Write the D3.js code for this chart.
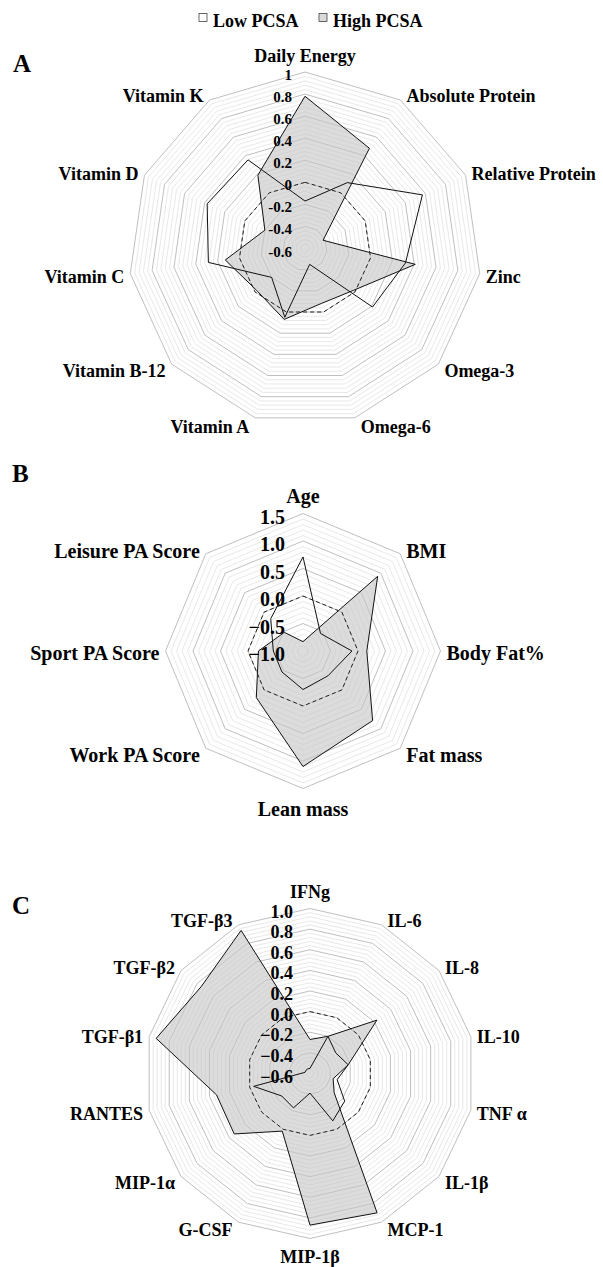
<!DOCTYPE html>
<html>
<head>
<meta charset="utf-8">
<script src="https://cdn.jsdelivr.net/npm/d3@7"></script>
<style>
  body { margin: 0; background: #fff; }
  svg { display: block; font-family: "Liberation Serif", "Times New Roman", serif; font-weight: bold; }
</style>
</head>
<body>
<svg id="chart" width="603" height="1267"></svg>
<script>
// ---- panel A: nutrient intake ----
const nutrientNames = ["Daily Energy", "Absolute Protein", "Relative Protein", "Zinc", "Omega-3", "Omega-6",
    "Vitamin A", "Vitamin B-12", "Vitamin C", "Vitamin D", "Vitamin K"];
const nutrientLow  = [-0.17, 0.11, 0.57, 0.32, 0.21, -0.45, 0.05, -0.2, 0.285, 0.375, 0.355];
const nutrientHigh = [0.78, 0.48, -0.42, 0.41, -0.02, -0.08, 0.07, -0.02, 0.13, -0.2, 0.19];
const nutrientTicks = [1, 0.8, 0.6, 0.4, 0.2, 0, -0.2, -0.4, -0.6];

// ---- panel B: body composition and activity ----
const bodyNames = ["Age", "BMI", "Body Fat%", "Fat mass", "Lean mass", "Work PA Score", "Sport PA Score", "Leisure PA Score"];
const bodyLow  = [0.71, -0.55, -0.11, -0.36, -0.3, -0.46, -0.46, -0.17];
const bodyHigh = [-0.83, 0.92, 0.16, 0.79, 1.1, 0.2, -0.19, -0.52];
const bodyTicks = [1.5, 1.0, 0.5, 0.0, -0.5, -1.0];

// ---- panel C: cytokines ----
const cytokineNames = ["IFNg", "IL-6", "IL-8", "IL-10", "TNF α", "IL-1β", "MCP-1", "MIP-1β", "G-CSF",
    "MIP-1α", "RANTES", "TGF-β1", "TGF-β2", "TGF-β3"];
const cytokineLow  = [-0.55, -0.2, -0.28, -0.22, -0.33, -0.17, -0.09, -0.41, -0.23, -0.25, -0.04, -0.55, -0.55, -0.55];
const cytokineHigh = [-0.27, -0.2, 0.23, -0.22, -0.37, -0.3, 0.9, 0.87, 0.02, 0.34, 0.33, 0.93, 0.75, 0.94];
const cytokineTicks = [1.0, 0.8, 0.6, 0.4, 0.2, 0.0, -0.2, -0.4, -0.6];

const legendNames = ["Low PCSA", "High PCSA"];

const svg = d3.select("#chart");

function drawRadar(opt) {
    const g = svg.append("g");
    const n = opt.names.length;
    const r = d3.scaleLinear().domain([opt.min, opt.max]).range([0, opt.radius]);
    const angle = i => i * 2 * Math.PI / n;

    // grid: minor levels light, major levels a bit darker
    const levels = d3.range(0, Math.round((opt.max - opt.min) / opt.minor) + 1)
        .map(k => opt.min + k * opt.minor);
    const ring = d3.lineRadial()
        .angle((d, i) => angle(i))
        .radius(d => r(d))
        .curve(d3.curveLinearClosed);

    levels.forEach((lv, k) => {
        if (k === 0) return;
        const major = k % opt.perMajor === 0;
        g.append("path")
            .attr("transform", `translate(${opt.cx},${opt.cy})`)
            .attr("d", ring(d3.range(n).map(() => lv)))
            .attr("fill", "none")
            .attr("stroke", major ? "#b8b8b8" : "#dedede")
            .attr("stroke-width", major ? 0.9 : 0.7);
    });

    const series = d3.lineRadial()
        .angle((d, i) => angle(i))
        .radius(d => r(d))
        .curve(d3.curveLinearClosed);

    // High PCSA, grey fill
    g.append("path")
        .attr("transform", `translate(${opt.cx},${opt.cy})`)
        .attr("d", series(opt.high))
        .attr("fill", "#c4c4c4")
        .attr("fill-opacity", 0.6)
        .attr("stroke", "#111")
        .attr("stroke-width", 1);

    // Low PCSA, outline only
    g.append("path")
        .attr("transform", `translate(${opt.cx},${opt.cy})`)
        .attr("d", series(opt.low))
        .attr("fill", "none")
        .attr("stroke", "#111")
        .attr("stroke-width", 1);

    // zero reference
    g.append("path")
        .attr("transform", `translate(${opt.cx},${opt.cy})`)
        .attr("d", series(opt.names.map(() => 0)))
        .attr("fill", "none")
        .attr("stroke", "#222")
        .attr("stroke-width", 1)
        .attr("stroke-dasharray", "4,3");

    // value labels up the top spoke
    g.selectAll(".tick")
        .data(opt.ticks)
        .enter()
        .append("text")
        .attr("x", opt.cx - opt.tickGap)
        .attr("y", d => opt.cy - r(d) + 3)
        .attr("text-anchor", "end")
        .attr("dominant-baseline", "central")
        .attr("font-size", opt.tickSize)
        .text(d => opt.fmt(d));

    // category labels
    opt.names.forEach((name, i) => {
        const a = angle(i);
        const s = Math.sin(a), c = Math.cos(a);
        const vx = opt.cx + opt.radius * s, vy = opt.cy - opt.radius * c;
        let x = vx, y, anchor = "middle";
        if (Math.abs(s) < 0.01) {
            y = c > 0 ? vy - opt.labelSize * 0.9 : vy + opt.labelSize;
        } else {
            anchor = s > 0 ? "start" : "end";
            x = vx + (s > 0 ? 6 : -6);
            y = vy - c * 7 + 2;
        }
        g.append("text")
            .attr("x", x)
            .attr("y", y)
            .attr("text-anchor", anchor)
            .attr("dominant-baseline", "central")
            .attr("font-size", opt.labelSize)
            .text(name);
    });

    svg.append("text")
        .attr("x", opt.letterX)
        .attr("y", opt.letterY)
        .attr("font-size", 25)
        .text(opt.letter);
}

drawRadar({
    names: nutrientNames, low: nutrientLow, high: nutrientHigh, ticks: nutrientTicks,
    min: -0.6, max: 1, minor: 0.04, perMajor: 5,
    cx: 305, cy: 248.5, radius: 176.5,
    labelSize: 18, tickSize: 15, tickGap: 13,
    fmt: d => String(+d.toFixed(1)),
    letter: "A", letterX: 13, letterY: 72
});

drawRadar({
    names: bodyNames, low: bodyLow, high: bodyHigh, ticks: bodyTicks,
    min: -1, max: 1.5, minor: 0.1, perMajor: 5,
    cx: 303, cy: 651, radius: 137.5,
    labelSize: 20, tickSize: 20, tickGap: 18,
    fmt: d3.format(".1f"),
    letter: "B", letterX: 12, letterY: 482
});

drawRadar({
    names: cytokineNames, low: cytokineLow, high: cytokineHigh, ticks: cytokineTicks,
    min: -0.6, max: 1, minor: 0.04, perMajor: 5,
    cx: 310, cy: 1073.5, radius: 165,
    labelSize: 18, tickSize: 18, tickGap: 17,
    fmt: d3.format(".1f"),
    letter: "C", letterX: 12, letterY: 914
});

// legend
const legend = svg.append("g");
const legendX = [199, 319];
legendNames.forEach((name, i) => {
    legend.append("rect")
        .attr("x", legendX[i]).attr("y", 13.5)
        .attr("width", 8).attr("height", 8)
        .attr("fill", i === 0 ? "#fff" : "#d9d9d9")
        .attr("stroke", "#444").attr("stroke-width", 0.8);
    legend.append("text")
        .attr("x", legendX[i] + 14).attr("y", 27)
        .attr("font-size", 18)
        .text(name);
});
</script>
</body>
</html>
